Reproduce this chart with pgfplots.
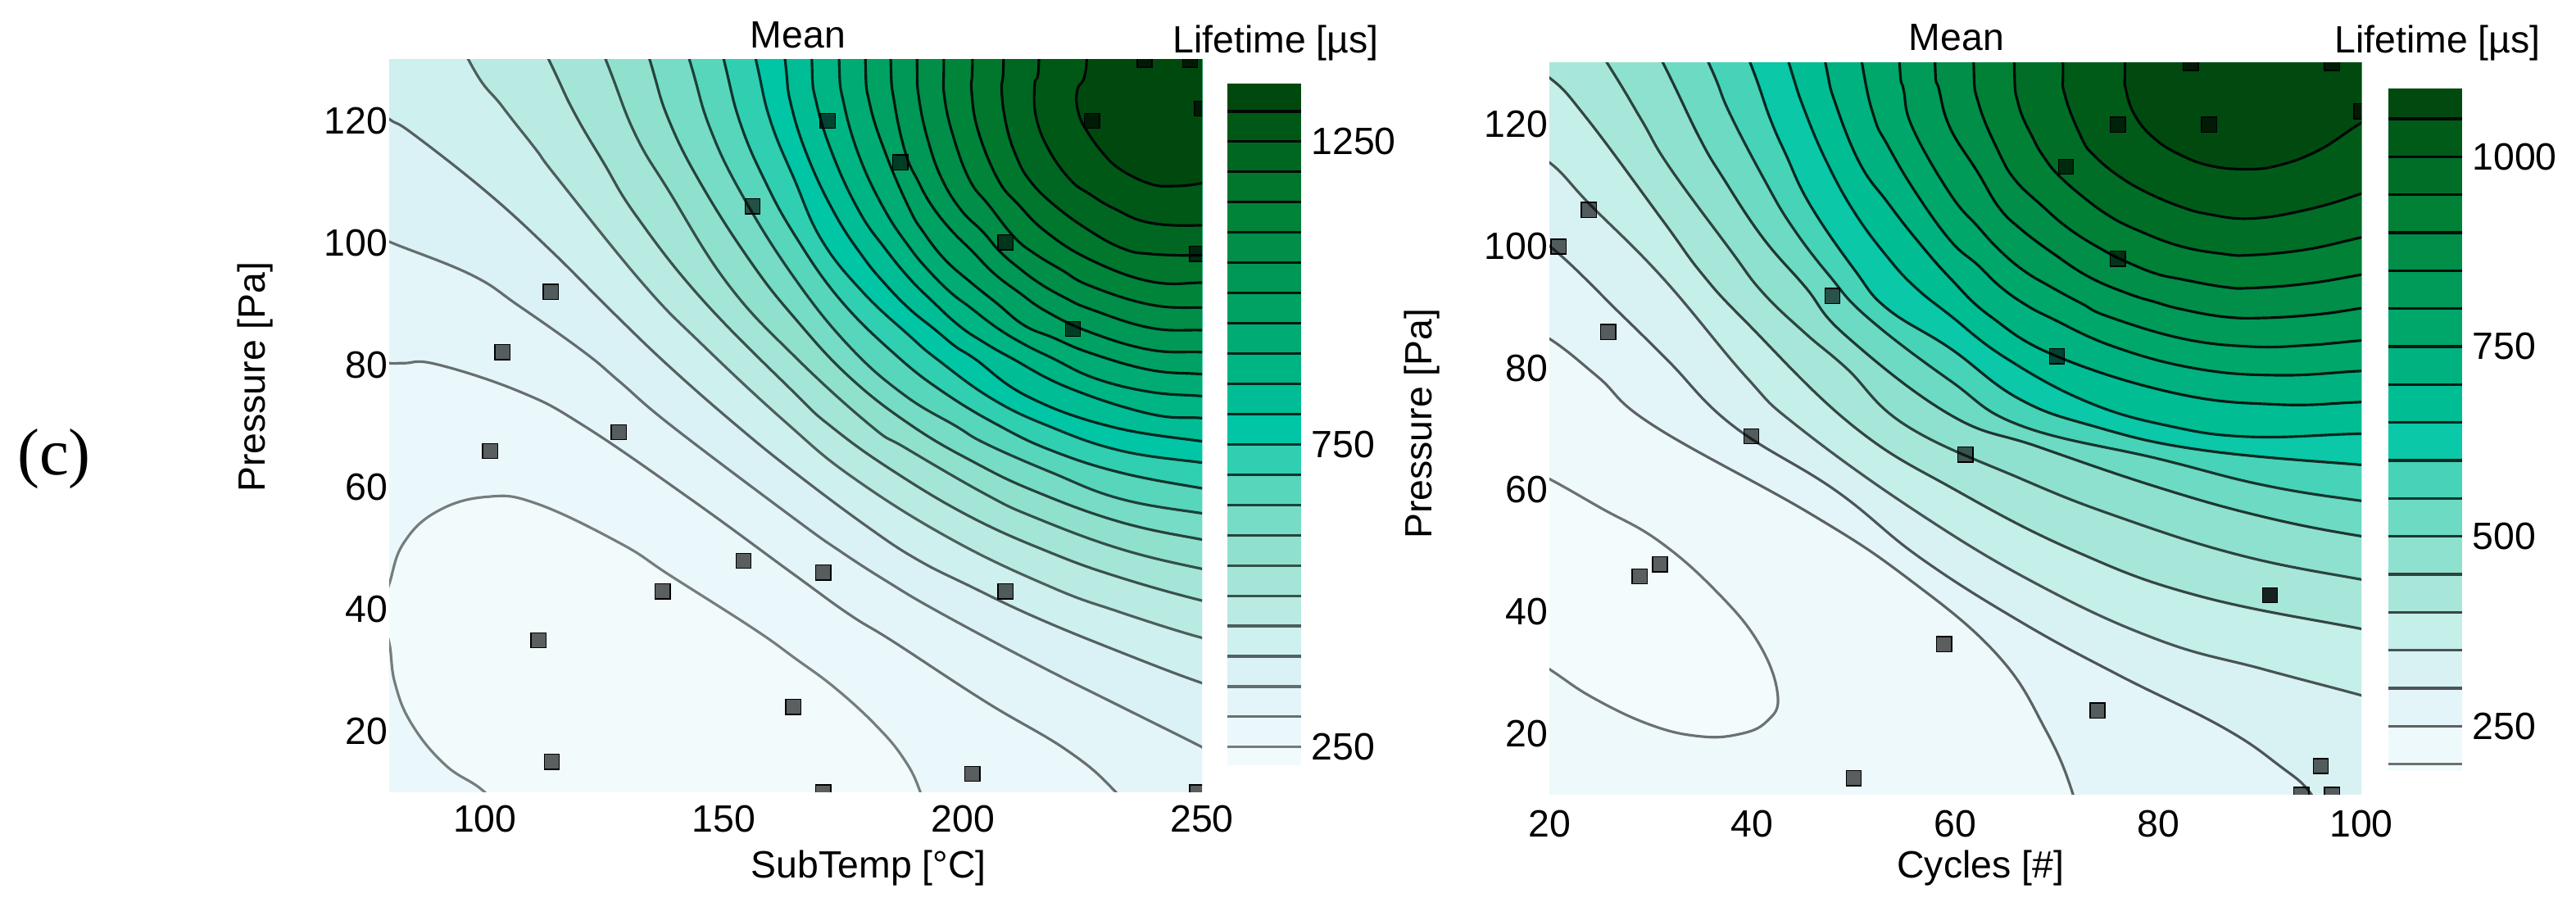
\documentclass[border=0pt]{standalone}
\usepackage{fontspec}
\setmainfont{Liberation Sans}
\newfontfamily\serif{Liberation Serif}
\usepackage{pgfplots}
\pgfplotsset{compat=1.18}

% colour scale, position is the share of the colour bar range
\pgfplotsset{
  colormap={bugn}{
    rgb255(0pt)=(244,252,253) rgb255(71pt)=(231,246,250) rgb255(160pt)=(214,241,243)
    rgb255(204pt)=(198,239,233) rgb255(248pt)=(173,232,220) rgb255(337pt)=(133,223,202)
    rgb255(426pt)=(72,211,183) rgb255(492pt)=(0,198,166) rgb255(559pt)=(0,185,140)
    rgb255(648pt)=(0,167,106) rgb255(736pt)=(0,147,80) rgb255(825pt)=(0,127,51)
    rgb255(914pt)=(0,95,28) rgb255(1000pt)=(0,66,10)
  },
  map/.style={
    scale only axis, axis line style={draw=none}, major tick length=0pt,
    clip mode=global, clip marker paths=true,
    tick label style={font=\fontsize{13.2}{15}\selectfont},
    label style={font=\fontsize{13.2}{15}\selectfont},
    title style={font=\fontsize{13.2}{15}\selectfont,yshift=-6pt},
    /pgf/number format/assume math mode=true,
    ymin=10, ymax=130, ytick={20,40,60,80,100,120},
    ylabel={Pressure [Pa]}, title={Mean},
    yticklabel style={xshift=3pt},
    xticklabel style={yshift=-1pt},
  },
  bar/.style={
    scale only axis, axis line style={draw=none}, major tick length=0pt,
    xmin=0, xmax=1, xtick=\empty, ymajorticks=true, yticklabel pos=right,
    tick label style={font=\fontsize{13.2}{15}\selectfont},
    title style={font=\fontsize{13.2}{15}\selectfont,yshift=-6pt},
    /pgf/number format/assume math mode=true,
    /pgf/number format/1000 sep={},
    title={Lifetime [µs]},
  },
}
% one contour: fill on the high side, stroke on the line
\newcommand\band[3]{\addplot[smooth,tension=.7,color of colormap={#1 of bugn},fill=.,draw=black,draw opacity=#2,line width=.9pt] coordinates {#3};}
% one step of a colour bar
\newcommand\cb[4]{\addplot[color of colormap={#1 of bugn},fill=.,draw=none] coordinates {(0,#2)(1,#2)(1,#3)(0,#3)};
  \addplot[black,opacity=#4,line width=.9pt] coordinates {(0,#2)(1,#2)};}

\begin{document}
\begin{tikzpicture}
\path[use as bounding box] (0,0) rectangle (31.44,11.18);
\node[font=\serif\fontsize{23}{25}\selectfont] at (0.66,5.58) {(c)};

% ---- SubTemp
\begin{axis}[map, at={(4.75cm,1.51cm)}, anchor=south west, width=9.92cm, height=8.94cm,
  xmin=80, xmax=250, xtick={100,150,200,250},
  xlabel={SubTemp [°C]},
  xlabel style={at={(axis description cs:0.59,-0.103)},anchor=center},
  ylabel style={at={(axis description cs:-0.165,0.567)},anchor=center},
  title style={at={(axis description cs:0.503,1.034)},anchor=center},
]
\band{49}{0}{(70,0)(270,0)(270,150)(70,150)}
\band{13}{.5}{(78,39)(80,44.1)(83,50.8)(90,56)(100.4,58.4)(110.8,57.3)(128.3,50.8)(138.8,45.5)(156.2,36.8)(164.8,32)(173.4,27)(182,20.8)(187.7,15.4)(191.1,10)(194,2)(194,-6)(106,-6)(106,4)(100,10)(91.7,14.5)(84.7,21.2)(81.2,27.9)(80,34.5)(78,39)}
\band{93}{.55}{(70,150)(74,81)(80,80.3)(83.1,80.3)(90,80.1)(107.4,75.6)(120.8,70)(143.1,58)(164.8,45.6)(176.3,39.1)(185.4,34.7)(204.8,24.8)(221.9,16.8)(232,10)(240,2)(270,0)(270,150)}
\band{138}{.55}{(70,150)(74,102.5)(80,100.2)(97.1,94.8)(107.1,89.7)(120.8,82.1)(128.3,77.2)(139.1,70)(164.8,54.8)(174.5,49.4)(184.2,44.5)(194.8,39.6)(215.1,31.1)(233.4,23.9)(250,17.4)(258,14)(270,150)}
\band{182}{.6}{(70,150)(74,124)(80,120.3)(84.9,117.9)(100.6,108.2)(114,98.6)(126.8,88.6)(138.8,79.6)(152.8,70)(164.8,62.4)(180.2,53.4)(190.5,48.1)(201.4,43.8)(215.1,38.7)(232.5,33.1)(250,27.9)(258,26.3)(270,150)}
\band{226}{.6}{(85,150)(96.6,130)(103.7,122.3)(110.6,115.4)(115.1,110.7)(133.1,93.3)(145.4,83.4)(163.1,70.5)(177.1,61.5)(197.7,51.4)(218.5,43.6)(232.5,39.6)(250,35.3)(258,34.2)(270,150)}
\band{270}{.65}{(101,150)(113.4,130)(118.6,121.5)(124.8,113.2)(131.7,104.4)(145.4,90.8)(164.8,75.4)(172.3,70)(184.5,63.1)(201.4,55.2)(218.5,49.2)(232.8,45.2)(250,41.4)(258,40.3)(270,150)}
\band{315}{.65}{(115,150)(125.3,130)(131.4,117.9)(138.5,108.5)(150.8,93.3)(164.8,81.4)(180.8,70)(188,66.4)(204.8,58.8)(215.1,55)(232.8,49.9)(250,46.6)(258,45.6)(270,150)}
\band{359}{.7}{(127,150)(134.5,130)(138.5,120.1)(145.4,109.4)(155.7,96.8)(164.8,87.7)(176.3,78)(189.4,70)(202.5,64)(215.1,59.3)(232.8,54.3)(250,51.4)(258,50.5)(270,150)}
\band{404}{.7}{(135,150)(142.8,130)(147.1,118.8)(154,107.6)(164.8,94.2)(176.3,83)(187.7,75.1)(198.5,70)(204.8,67.1)(218.5,62.4)(232.8,58.1)(250,55.7)(258,55)(270,150)}
\band{448}{.75}{(144,150)(150,130)(153.4,119.7)(158.5,110.3)(164.8,101.3)(174.2,90.8)(186,81.6)(196.2,75.4)(207.7,70)(218.5,66)(232.8,62.4)(250,59.8)(258,58.9)(270,150)}
\band{492}{.75}{(151,150)(156.7,130)(159.7,120.1)(164.8,110.3)(170.5,100.4)(179.1,91.9)(188.8,84.8)(194.5,81)(206,74.5)(217.9,70)(232.8,66)(250,64)(258,63.3)(270,150)}
\band{537}{.8}{(160,150)(162.8,130)(164,122.8)(167.7,113.8)(173.4,104.5)(179.1,97.7)(183.7,93.3)(188.8,89.2)(194,85.9)(198.5,83)(202.5,81)(213.4,74.9)(230.5,70)(250,67.5)(258,66.9)(270,150)}
\band{581}{.8}{(168.4,150)(168.4,130)(169.4,122.8)(173.1,113.8)(178.5,104.9)(183.7,99.1)(188.8,94.2)(193.4,90.6)(199.1,86.5)(204.2,83.8)(210,81.2)(222,76.3)(239.1,72)(250,71.3)(258,70.7)(270,150)}
\band{625}{.8}{(174.1,150)(174.1,130)(175.1,122.8)(178.5,113.8)(183.7,105.3)(188.8,99.3)(192.8,95.5)(197.4,91.9)(201.4,89.5)(207.1,86.1)(212.8,83.4)(218.5,81.2)(227.7,77.8)(239.1,75.6)(250,74.9)(258,74.3)(270,150)}
\band{670}{.85}{(179.6,150)(179.6,130)(180.5,122.8)(184,114.3)(188.8,105.6)(191.7,101.8)(196.2,97.3)(201.7,93.5)(207.1,90.1)(212.8,86.5)(218.8,84.5)(226.5,82)(239.1,79.2)(250,78.5)(258,78)(270,150)}
\band{714}{.85}{(184.9,150)(184.9,130)(185.7,122.8)(188,114.7)(190.5,110.3)(193.4,106.2)(197.4,102.2)(202,98.6)(206.5,95)(211.7,91.9)(217.4,88.8)(226.5,85.4)(239.1,82.5)(250,82.1)(258,81.8)(270,150)}
\band{759}{.85}{(190.4,150)(190.4,130)(190.8,123.7)(192.8,116.5)(195.7,110.3)(199.7,105.3)(204.2,101.8)(207.7,98.6)(211.7,95.9)(216.2,93.3)(221.4,91)(226.5,89.2)(239.1,86.1)(250,85.7)(258,85.6)(270,150)}
\band{803}{.85}{(196,150)(196,130)(196.1,124.1)(198,117.4)(201.4,110.3)(205.4,106.2)(210.8,100.9)(215.1,98.2)(220.8,95.5)(226.5,93)(239.1,89.9)(250,89.4)(258,89.6)(270,150)}
\band{847}{.9}{(202,150)(202,130)(201.8,125)(203.2,118.3)(207.4,110.3)(211.7,106.2)(217.4,101.8)(226.5,97.3)(239.1,93.7)(250,93.5)(258,94)(270,150)}
\band{892}{.9}{(208.5,150)(208.5,130)(208.1,125)(209.1,119.2)(211.1,114.3)(213.9,110.3)(219.1,106.2)(226.5,102)(233.4,99.1)(239.1,98.2)(250,98)(258,98.8)(270,150)}
\band{936}{.9}{(215.9,150)(215.9,130)(215,125.9)(215.3,120.6)(218,115.2)(222.5,110.3)(226.5,108)(231.7,105.6)(239.1,103.3)(250,102.9)(258,103.8)(270,150)}
\band{979}{.9}{(225.9,150)(225.9,130)(223.9,125)(224.1,121.5)(225.8,118.5)(229.4,114.6)(233.2,111.9)(239.1,109.7)(243.7,109.3)(250,109.8)(258,111.5)(270,150)}
\addplot[only marks, mark=square*, mark size=2.6pt, mark options={draw=none,fill=black,fill opacity=.62}] coordinates {
 (171.7,120)(186.9,113.2)(208.9,100.1)(223,85.9)(227,120)(250,122)(249,98.2)(238,130)(247.5,130)
 (156,106)(113.8,92)(103.7,82.1)(128,69)(101.1,65.9)(154.1,47.9)(170.8,46)(137.2,42.9)(208.9,42.9)
 (111.2,34.9)(164.5,24)(114,15)(202,13)(170.8,10)(249,10)};
\end{axis}

\begin{axis}[bar, at={(14.98cm,1.84cm)}, anchor=south west, width=0.9cm, height=8.32cm,
  ymin=220, ymax=1346, ytick={250,750,1250},
  title style={at={(axis description cs:0.656,1.06)},anchor=center},
]
\cb{13}{220}{250}{0}\cb{49}{250}{300}{.5}\cb{93}{300}{350}{.55}\cb{138}{350}{400}{.55}
\cb{182}{400}{450}{.6}\cb{226}{450}{500}{.6}\cb{270}{500}{550}{.65}\cb{315}{550}{600}{.65}
\cb{359}{600}{650}{.7}\cb{404}{650}{700}{.7}\cb{448}{700}{750}{.75}\cb{492}{750}{800}{.75}
\cb{537}{800}{850}{.8}\cb{581}{850}{900}{.8}\cb{625}{900}{950}{.8}\cb{670}{950}{1000}{.85}
\cb{714}{1000}{1050}{.85}\cb{759}{1050}{1100}{.85}\cb{803}{1100}{1150}{.85}\cb{847}{1150}{1200}{.9}
\cb{892}{1200}{1250}{.9}\cb{936}{1250}{1300}{.9}\cb{979}{1300}{1346}{.9}
\end{axis}

% ---- Cycles
\begin{axis}[map, at={(18.91cm,1.48cm)}, anchor=south west, width=9.91cm, height=8.93cm,
  xmin=20, xmax=100, xtick={20,40,60,80,100},
  xticklabel style={yshift=-1pt},
  xlabel={Cycles [\#]},
  xlabel style={at={(axis description cs:0.531,-0.1)},anchor=center},
  ylabel style={at={(axis description cs:-0.157,0.507)},anchor=center},
  title style={at={(axis description cs:0.5015,1.035)},anchor=center},
]
\band{39}{0}{(15,0)(110,0)(110,150)(15,150)}
\band{5}{.55}{(15,66)(20,61.8)(25.1,57)(30.7,51.7)(36.3,43.6)(40.6,34.9)(42.5,26.3)(41.4,22)(38.6,19.9)(34.7,19.6)(29.9,21.5)(24.3,25.9)(20,30.6)(15,36)}
\band{94}{.6}{(15,150)(16,88)(20,84.8)(24.8,78.5)(30.3,70.5)(45.8,56)(55.3,45.5)(64.1,33)(68.9,20.6)(71.6,10)(72.5,2)(110,0)(110,150)}
\band{150}{.65}{(15,150)(16,103)(20,100)(27.3,88.4)(31.8,81)(38.1,70.5)(48.2,59.9)(56.5,48.9)(66.5,38.3)(76,29.7)(86.3,21.1)(91.9,14.8)(95.1,10)(97,3)(110,0)(110,150)}
\band{205}{.65}{(15,150)(16,117)(20,113.7)(24,106.8)(31.2,94.7)(39.4,78.5)(44.4,70.5)(56.1,56.5)(68.1,44.5)(80,35.4)(90.3,30.6)(100,26.3)(107,23)(110,150)}
\band{261}{.7}{(15,150)(16,131)(20,127.6)(23.7,120.9)(31.2,104.1)(35,95.5)(39.4,87.5)(49.9,70.5)(60.1,59.9)(72,49.8)(84,42.6)(100,37.2)(107,35)(110,150)}
\band{316}{.7}{(18,150)(25.7,130)(29.1,120.6)(31.8,113)(37.8,99.4)(41,92.4)(45.2,85.7)(49.3,79.9)(55.2,70.5)(66.5,61.8)(76,55.6)(88,49.3)(100,45.3)(107,43.5)(110,150)}
\band{372}{.75}{(25,150)(31.2,130)(34.8,117.7)(37.1,111.2)(41,101.4)(45.2,93.3)(49.2,85.3)(59.5,72.3)(68.1,67.1)(80,60.4)(90.3,55.6)(100,52.4)(107,51)(110,150)}
\band{427}{.75}{(30,150)(35.7,130)(37.7,122)(41.2,110.8)(43.9,103.2)(47.6,95.1)(51.4,88.2)(59.5,77.9)(66.5,70.5)(80,65.1)(90.3,60.8)(100,58.2)(107,57)(110,150)}
\band{483}{.8}{(35,150)(39.8,130)(41.7,121.1)(43.3,115)(45.7,106.7)(50.1,96)(53.3,89.7)(59.5,83.2)(66.2,75)(73.5,70.5)(84,66.6)(100,64.1)(107,63.5)(110,150)}
\band{538}{.8}{(40,150)(43.6,130)(45.2,122)(47.4,113.5)(50.1,105.4)(53.3,98.2)(56,93.3)(59.5,88.6)(64.9,81.7)(72.9,74.5)(81,70.5)(89.1,68.7)(100,69.2)(107,69)(110,150)}
\band{594}{.85}{(45,150)(47.2,130)(48.2,123.3)(50.6,113.5)(53.3,107.2)(56,101.4)(59.5,94.7)(63.5,88.4)(70,81.9)(81.8,75.8)(91.8,74)(100,74.4)(107,74.8)(110,150)}
\band{649}{.85}{(49,150)(50.8,130)(52,121.1)(53.3,116.6)(56,109)(59.5,100.9)(62.2,96.9)(64.3,93.5)(66.7,90.6)(69.4,88.2)(75.6,83.5)(83.7,79.9)(91.8,78.8)(100,79.5)(107,80)(110,150)}
\band{705}{.85}{(54,150)(54.5,130)(54.9,125.6)(55.8,119.3)(59.5,108.5)(62.2,103.2)(64.3,99.4)(66.7,96)(69.4,93.3)(72.4,90.6)(75.1,88.4)(82.4,84.8)(89.1,83.5)(94.5,83.7)(100,84.5)(107,85.5)(110,150)}
\band{760}{.9}{(58,150)(58,130)(58.4,125.6)(59.5,119.3)(62.2,112.1)(64.3,106.3)(66.5,102.7)(69.7,98.7)(73.2,94.9)(77,92.2)(79.7,90.8)(82.1,89.7)(86.4,88.4)(90.4,88.2)(95.8,88.8)(100,89.8)(107,91.5)(110,150)}
\band{816}{.9}{(61.8,150)(61.8,130)(62.3,123.3)(64.3,115.3)(65.9,110.8)(68.4,106.8)(71.3,102.7)(74.8,99.1)(77,97.3)(79.7,95.5)(82.1,94.6)(86.4,93.3)(89.1,93.1)(94.5,93.8)(100,95.3)(107,97.5)(110,150)}
\band{871}{.9}{(65.8,150)(65.8,130)(66.2,123.3)(67.7,117.5)(68.8,114.4)(70.1,111.7)(72.4,108.3)(75.1,105)(77.8,102.7)(82.1,100)(86.4,98.7)(89.1,98.5)(94.5,99.4)(100,101.4)(107,104)(110,150)}
\band{927}{.9}{(70.6,150)(70.6,130)(70.8,124.7)(72.5,117.5)(73.7,114.8)(75.9,111.7)(78.6,109)(82.1,106.5)(85,105.2)(89.1,104.5)(94.5,105.9)(100,108.6)(107,113)(110,150)}
\band{977}{.9}{(76.7,150)(76.7,130)(76.8,125.6)(77.8,121.1)(79.7,117.5)(82.1,115)(85,113.2)(88.5,112.6)(91.8,113.2)(95.8,115.7)(100,120.2)(105,125)(110,150)}
\addplot[only marks, mark=square*, mark size=2.6pt, mark options={draw=none,fill=black,fill opacity=.62}] coordinates {
 (20.9,99.9)(23.9,105.9)(25.8,85.9)(28.9,45.8)(30.9,47.8)(39.9,68.8)(47.9,91.8)(50,12.7)(58.9,34.7)
 (61,65.8)(70,81.9)(70.9,113)(74,23.8)(76,119.9)(76,97.9)(85,119.9)(83.2,130)(97.1,130)(100,122.1)
 (91,42.7)(91,42.7)(96,14.7)(94.1,10)(97.1,10)};
\end{axis}

\begin{axis}[bar, at={(29.15cm,1.77cm)}, anchor=south west, width=0.9cm, height=8.33cm,
  ymin=191, ymax=1090, ytick={250,500,750,1000},
  title style={at={(axis description cs:0.667,1.067)},anchor=center},
]
\cb{5}{191}{200}{0}\cb{39}{200}{250}{.55}\cb{94}{250}{300}{.6}\cb{150}{300}{350}{.65}
\cb{205}{350}{400}{.65}\cb{261}{400}{450}{.7}\cb{316}{450}{500}{.7}\cb{372}{500}{550}{.75}
\cb{427}{550}{600}{.75}\cb{483}{600}{650}{.8}\cb{538}{650}{700}{.8}\cb{594}{700}{750}{.85}
\cb{649}{750}{800}{.85}\cb{705}{800}{850}{.85}\cb{760}{850}{900}{.9}\cb{816}{900}{950}{.9}
\cb{871}{950}{1000}{.9}\cb{927}{1000}{1050}{.9}\cb{977}{1050}{1090}{.9}
\end{axis}
\end{tikzpicture}
\end{document}
